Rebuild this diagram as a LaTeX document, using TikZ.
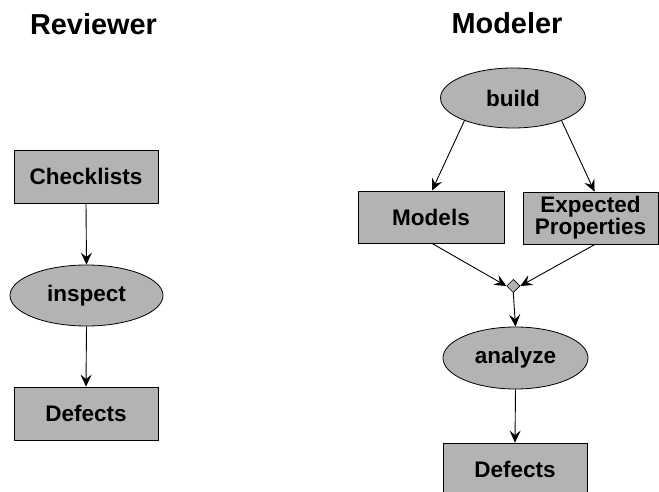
\documentclass[tikz,border=0pt]{standalone}
\usepackage{fontspec}
\setmainfont{Liberation Sans}
\usetikzlibrary{shapes.geometric,arrows.meta}
\definecolor{boxgray}{RGB}{179,179,179}
\begin{document}
\begin{tikzpicture}[x=1bp,y=-1bp,
  every node/.style={font=\fontsize{22.6}{20.5}\selectfont\bfseries, inner sep=1bp, align=center},
  boxnode/.style={draw=black, fill=boxgray, line width=0.8bp, rectangle},
  ovalnode/.style={draw=black, fill=boxgray, line width=0.8bp, ellipse},
  joinnode/.style={draw=black, fill=boxgray, line width=0.6bp, diamond, inner sep=0pt, minimum width=13.4bp, minimum height=13.4bp},
  titlenode/.style={font=\fontsize{29}{32}\selectfont\bfseries, anchor=base},
  conn/.style={line width=0.9bp, -{Stealth[length=12bp,width=11bp,inset=4.5bp]}}
]
\useasboundingbox (0,0) rectangle (659,492);
% titles
\node[titlenode] (treviewer) at (93.5,35) {Reviewer};
\node[titlenode] (tmodeler) at (507,34) {Modeler};
% reviewer column
\node[boxnode, minimum width=144bp, minimum height=53bp] (check) at (86,176.5) {Checklists};
\node[ovalnode, minimum width=153bp, minimum height=61bp] (inspect) at (86.5,295.5) {inspect};
\node[boxnode, minimum width=144bp, minimum height=53bp] (defl) at (86,413.5) {Defects};
% modeler column
\node[ovalnode, minimum width=145bp, minimum height=60bp] (build) at (513,98) {build};
\node[boxnode, minimum width=146bp, minimum height=52bp] (models) at (431,217) {Models};
\node[boxnode, minimum width=135bp, minimum height=52bp] (exp) at (590.5,218) {Expected\\Properties};
\node[joinnode] (join) at (513.3,286) {};
\node[ovalnode, minimum width=145bp, minimum height=62bp] (analyze) at (515.5,358) {analyze};
\node[boxnode, minimum width=144bp, minimum height=53bp] (defr) at (515,469.5) {Defects};
% connectors
\draw[conn] (check.south) -- (inspect.north);
\draw[conn] (inspect.south) -- (defl.north);
\draw[conn] (build.205) -- ([xshift=1bp]models.north);
\draw[conn] (build.335) -- ([xshift=4bp]exp.north);
\draw[conn] ([xshift=1bp]models.south) -- (join.west);
\draw[conn] ([xshift=4.5bp]exp.south) -- (join.east);
\draw[conn] (join.south) -- (analyze.north);
\draw[conn] (analyze.south) -- (defr.north);
\end{tikzpicture}
\end{document}
